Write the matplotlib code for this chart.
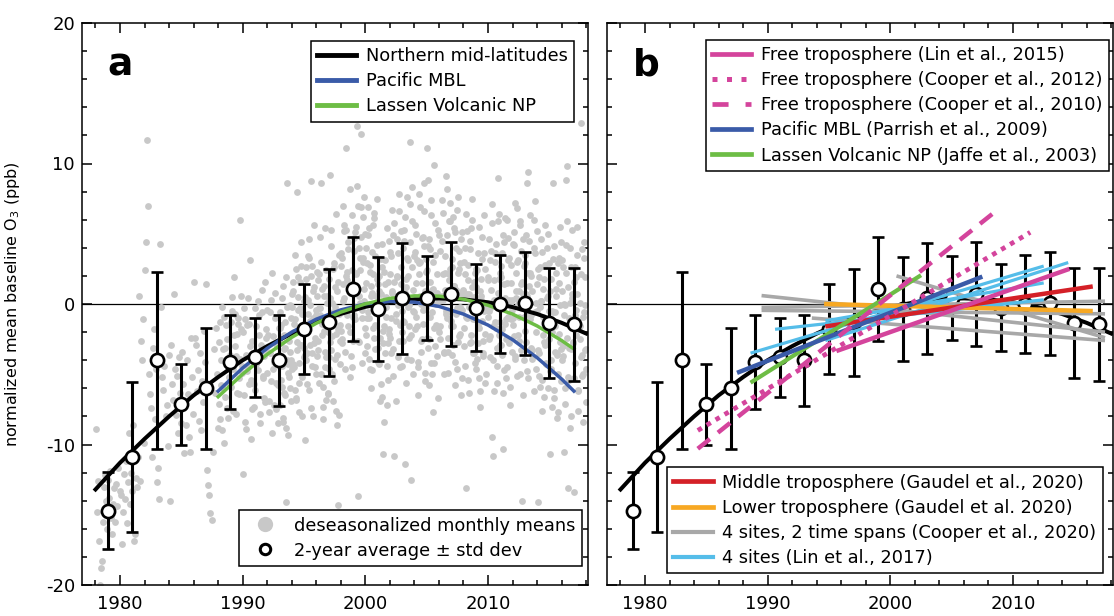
import numpy as np
import matplotlib.pyplot as plt
from matplotlib.lines import Line2D
from matplotlib.ticker import MultipleLocator

plt.rcParams['font.family'] = ['DejaVu Sans']
plt.rcParams['axes.unicode_minus'] = False

output_name = "out.png"

# ---- data ----
# fitted curves
curve_years = [1978, 1980, 1982, 1984, 1986, 1988, 1990, 1992, 1994, 1996, 1998,
               2000, 2002, 2004, 2006, 2008, 2010, 2012, 2014, 2016, 2018]
north_midlat = [-13.2, -11.3, -9.6, -8.0, -6.5, -5.2, -4.0, -3.0, -2.1, -1.3, -0.7,
                -0.2, 0.12, 0.33, 0.4, 0.33, 0.12, -0.22, -0.71, -1.34, -2.1]
fit_years = [1988, 1990, 1992, 1994, 1996, 1998, 2000, 2002, 2004, 2006, 2008,
             2010, 2012, 2014, 2016, 2017]
pacific_mbl = [-6.2, -4.55, -3.15, -2.0, -1.08, -0.42, 0.01, 0.19, 0.13, -0.17, -0.72,
               -1.5, -2.54, -3.82, -5.34, -6.2]
lassen_np = [-6.6, -4.99, -3.58, -2.37, -1.37, -0.58, 0.01, 0.4, 0.58, 0.56, 0.34,
             -0.09, -0.72, -1.56, -2.6, -3.2]

# 2-year averages +- std dev
avg_years = [1979, 1981, 1983, 1985, 1987, 1989, 1991, 1993, 1995, 1997,
             1999, 2001, 2003, 2005, 2007, 2009, 2011, 2013, 2015, 2017]
avg_o3 = [-14.7, -10.9, -4.0, -7.15, -6.0, -4.1, -3.8, -4.0, -1.8, -1.3,
          1.1, -0.35, 0.4, 0.45, 0.7, -0.25, 0.0, 0.05, -1.35, -1.45]
std_o3 = [2.75, 5.35, 6.3, 2.9, 4.3, 3.35, 2.8, 3.25, 3.2, 3.8,
          3.7, 3.7, 3.95, 3.0, 3.7, 3.1, 3.5, 3.65, 3.9, 4.0]

# deseasonalized monthly means (three records, Jan of start year onward)
site_a_start = 1978
site_a = [
    -8.9, -14.8, -12.6, -16.9, -20.0, -18.8, -18.3, -15.5, -13.0, -12.2, -14.0, -16.0,
    -12.5, -13.8, -11.9, -15.2, -16.4, -14.2, -13.1, -15.5, -12.8, -14.4, -11.7, -13.3,
    -13.6, -17.1, -14.8, -12.1, -13.9, -11.2, -15.6, -12.7, -9.2, -14.2, -12.0, -13.3,
    -8.6, -16.9, -16.4, -12.4, -13.0, -10.9, 0.6, -12.6, -2.6, -4.0, -1.1, -9.9,
    2.4, 4.4, 11.7, 7.0, -5.0, -6.4, -7.4, -10.9, -3.1, -1.8, -8.2, -4.6,
    -12.7, -11.7, -13.9, 4.3, -0.2, -5.2, -6.1, -4.4, -8.0, -7.2, -10.1, -3.6,
    -14.0, -2.9, -5.7, -6.8, 0.7, -4.6, -7.9, -5.1, -9.2, -3.8, -6.3, -8.5,
    -3.4, -5.7, -10.6, -7.1, -8.6, -4.0, -6.4, -9.5, -10.5, -2.4, -5.2, -7.8,
    1.6, -2.4, -2.9, -6.2, -4.7, -8.3, -3.5, -9.0, -5.5, -7.0, -1.9, -4.1,
    1.4, -11.8, -12.9, -13.6, -14.9, -15.4, -10.5, -3.2, -6.3, -1.7, -5.0, -8.8,
    -2.7, -8.2, -4.0, -0.2, -6.0, -9.9, -3.1, -1.5, -7.4, -4.6, -5.7, -4.3,
    -1.3, 0.5, -7.6, -2.2, -0.7, -3.7, -6.3, -1.4, -5.3, 6.0, -1.8, -4.9,
    -12.1, -0.3, -8.4, -3.6, -1.5, -4.5, -1.4, 3.1, -5.4, -7.5, -3.8, -5.7,
    -0.3, -4.3, 0.2, -2.2, -7.8, -3.3, -0.6, -5.3, -6.7, 1.6, -1.8, -4.9,
    -2.2, -7.7, -3.5, 0.3, 2.2, -4.6, -7.2, -1.0, -5.6, -2.7, -8.5, -4.4,
    -0.6, -2.8, -5.9, -8.4, -2.2, -1.3, -14.1, 8.6, -4.3, -5.2, -3.4, -4.0,
    -0.2, 1.6, -4.5, -1.1, -6.7, 8.0, 0.5, -4.2, -2.9, 2.7, -0.7, -3.8,
    -9.7, 2.6, -3.5, -0.7, 3.3, -1.2, 8.75, -4.4, 0.9, -2.8, -1.0, -0.8,
    0.6, -3.3, 2.1, -0.3, 8.6, -1.4, -5.9, 1.3, -3.4, -6.8, 0.1, -2.0,
    -3.8, 9.2, -3.3, 0.1, 2.5, -5.5, 1.2, -2.1, -8.6, -14.3, -0.7, -2.6,
    2.7, -2.8, 1.4, 5.2, -0.6, 11.1, 2.3, 3.9, -2.0, 0.8, -4.5, 1.1,
    4.7, -0.2, 2.2, 12.7, -13.7, 0.6, 3.3, 12.1, -1.0, 3.3, 0.2, 5.0,
    1.5, -3.0, 4.9, -1.0, 2.8, 0.6, -4.7, 2.1, 6.1, -1.5, -0.3, 1.8,
    -3.1, 0.9, -2.4, -5.7, 2.6, -10.7, -1.6, 3.1, -0.2, -4.4, 1.6, -2.1,
    2.1, -3.5, 0.8, 4.9, -10.8, -1.2, 1.9, 3.6, -2.6, 0.2, 5.2, -0.5,
    -1.2, 4.5, -11.4, 1.2, 3.3, -0.2, -2.4, 11.5, -12.5, 5.9, 1.0, -0.6,
    3.7, 1.5, -1.6, -4.1, 2.1, 3.0, 0.0, -2.5, 4.8, 8.6, 0.9, -0.3,
    11.1, 8.8, -2.5, 3.9, -4.2, 1.0, -7.7, 9.9, -3.0, 0.7, 2.1, -1.7,
    0.2, -1.6, 4.5, 2.1, -3.5, 1.0, 9.1, -1.0, -2.4, 5.9, 2.5, -0.6,
    2.6, -2.9, 1.3, 5.1, -0.7, -4.6, 2.2, 3.8, -2.1, 0.7, -0.4, 1.0,
    -1.7, 4.0, -13.1, 0.7, 2.8, -0.2, -2.8, 5.4, 1.2, -3.5, 0.5, -1.1,
    2.5, 0.3, -2.8, -5.3, 0.9, 1.8, -1.2, -3.7, 3.6, -2.1, -0.3, -0.9,
    -0.5, -2.3, 3.8, -9.5, -10.8, 0.3, 3.0, -1.7, -3.1, 9.0, 1.8, -1.3,
    1.9, -3.6, -10.3, 4.4, -1.4, -5.3, 1.5, 3.1, -2.8, 0.0, -1.1, 0.3,
    -1.5, 4.2, -3.9, 0.9, 3.0, 0.0, -2.6, 5.6, 1.4, -14.0, 0.7, -0.9,
    2.9, 0.7, 8.6, 9.4, 1.3, 2.2, -0.8, -3.3, 4.0, 7.3, 0.1, -0.5,
    -14.1, -3.5, 2.6, 0.2, -5.4, -0.9, 1.8, -2.9, -4.3, 4.0, 0.6, -2.5,
    -10.7, -4.0, -0.5, 8.6, -6.1, -1.6, 1.1, -3.6, -5.0, 3.3, -0.1, -3.2,
    0.9, -3.0, -10.5, -0.1, 8.8, 9.8, -13.1, -3.1, -8.8, 2.6, 0.4, -2.7,
    -13.4, -0.8, 1.9, 0.7, -6.1, -1.6, 12.9, -3.6, -5.0, 3.3, -0.1, -3.2,
]
site_b_start = 1988
site_b = [
    -7.1, -1.3, -5.8, -9.0, -3.2, -0.9, -6.6, -4.1, -2.5, -8.1, -5.2, -3.6,
    -5.9, -0.5, -4.6, 1.9, -3.0, -7.8, -2.1, -1.0, -6.4, -3.9, 0.6, -4.4,
    -2.0, -6.5, -1.1, -8.9, -4.8, 0.4, -5.7, -3.0, -9.6, -2.6, -4.1, -7.3,
    -6.1, -1.6, -4.7, -0.8, -8.5, -2.9, 1.0, -5.1, -3.7, -7.0, -2.4, -0.4,
    -3.4, -6.9, -0.6, -5.5, -9.2, -2.3, -4.1, 0.8, -7.5, -3.0, -5.8, -1.7,
    -7.2, -1.5, -4.4, 1.3, -6.3, -3.1, -8.8, -0.2, -4.9, -2.6, -6.0, -1.0,
    -4.6, 0.9, -2.0, -6.1, 2.5, -3.3, -0.4, -7.7, 1.6, -2.9, -5.2, 0.2,
    0.5, -4.0, -1.9, 3.4, -6.1, -0.1, 2.0, -3.5, -8.0, 1.2, -2.4, -5.0,
    -3.7, 1.7, -5.6, -0.8, 3.0, -2.2, -7.3, 0.6, -4.5, 2.4, -1.6, -6.4,
    1.8, -2.7, 4.1, -5.0, -0.6, 2.6, -3.9, -7.6, 0.9, -1.8, 3.5, -4.3,
    -1.9, 3.3, 0.2, 5.6, -3.4, 2.0, -0.8, 4.4, -5.2, 1.4, 6.3, -2.6,
    3.8, -1.1, 5.5, 0.9, 7.0, -2.7, 2.4, 4.8, -0.4, 6.2, 1.1, -3.5,
    -2.2, 2.9, -0.6, 5.4, -4.6, 1.3, 3.7, -1.7, 6.5, -3.2, 0.6, 4.2,
    1.4, -4.3, -0.2, 3.2, -6.6, -1.9, 2.3, -3.5, 0.5, -7.2, -2.8, 4.5,
    -2.4, 3.4, 0.9, -5.1, 5.8, -0.7, 2.0, -3.8, 6.6, -1.5, 1.4, -4.4,
    4.0, -1.3, 6.2, 1.8, -3.9, 3.1, -0.1, 7.1, -2.2, 2.6, -5.0, 0.4,
    -1.8, 5.0, 0.3, -4.5, 2.9, 6.9, -2.6, 1.5, -0.4, 4.1, -5.5, 3.2,
    2.4, -3.1, 4.6, -0.9, 6.3, -5.0, 1.1, -1.7, 3.5, 0.0, -3.7, 5.3,
    -2.0, 3.8, 0.6, 6.5, -3.4, 2.2, -0.7, 4.9, -4.9, 1.7, 7.2, -1.2,
    3.2, -1.6, 5.4, -4.1, 1.0, 6.7, -2.7, 2.5, -0.2, 4.6, -5.3, 0.9,
    -3.0, 2.1, -0.9, 5.2, -5.4, 0.7, 3.9, -2.2, 6.0, -1.1, 1.6, -4.2,
    1.2, -3.9, 3.6, -1.7, -6.2, 0.3, 4.8, -2.6, -0.5, 2.5, -5.0, 1.9,
    -2.5, 3.1, -0.2, 5.8, -4.0, 1.7, -1.3, 4.3, -5.6, 0.8, 6.4, -2.9,
    2.7, -1.8, 4.9, -4.7, 0.4, -2.5, 6.0, -0.9, 3.3, -5.9, 1.5, -3.4,
    -1.0, 5.1, -3.7, 2.2, 6.8, -2.2, 0.9, -5.0, 3.8, -0.3, 4.6, -4.0,
    3.5, -2.7, 0.6, -5.3, 4.5, -1.1, 2.0, -3.9, 6.0, -0.6, -4.6, 1.4,
    -3.3, 1.9, -5.9, 0.2, 3.7, -2.2, -6.6, 2.8, -1.4, -4.3, 5.0, -0.5,
    0.9, -4.6, -2.0, 3.2, -6.7, -0.6, 2.2, -3.5, -7.7, 1.5, -2.7, 4.4,
    -4.0, 2.6, -0.8, -6.0, 4.2, -2.4, 1.2, -5.4, 0.1, -3.2, 5.3, -1.6,
    1.6, -4.2, -0.4, 3.5, -6.2, -2.5, 2.1, -5.1, -0.9, 4.4, -3.3, -7.0,
]
site_c_start = 1993
site_c = [
    -1.7, -5.4, 0.4, -8.1, -3.2, -6.5, 1.9, -4.0, -9.3, -2.2, -0.1, -6.9,
    0.7, -4.3, -1.4, 3.5, -6.8, -2.7, 1.9, -5.6, -0.3, 4.4, -8.0, -3.1,
    -3.6, 1.8, -5.7, 0.3, 4.6, -2.9, -7.4, 2.7, -1.0, 5.6, -4.5, -0.4,
    2.3, -2.6, -0.3, 4.8, -5.0, 1.1, -8.2, -1.9, 5.4, -3.8, 0.6, -6.3,
    -4.6, 0.4, 5.3, -2.3, -6.9, 2.9, -0.2, 6.4, -3.6, 1.6, -7.9, -1.5,
    3.6, -2.5, 7.0, 0.4, -4.6, 5.3, 1.7, -1.6, 8.2, -3.7, 2.4, -0.9,
    -0.8, 5.1, 2.1, 8.4, -2.6, 4.0, 0.1, 6.9, -4.2, 3.0, 7.6, -1.7,
    4.0, -1.0, 6.9, -3.9, 2.3, -6.0, 0.8, 5.6, -2.4, 3.4, -0.2, 7.5,
    -4.1, 2.0, -6.9, 0.7, 4.3, -2.8, -8.4, 1.4, -0.9, 5.4, -5.4, -1.8,
    3.7, -1.0, 6.7, -3.2, 1.6, -6.9, 4.6, -0.1, 7.8, -4.5, 2.6, -2.0,
    -2.6, 5.3, 0.8, -5.6, 7.6, 2.0, -1.6, 4.4, -4.0, 8.3, -0.5, 3.4,
    5.6, -0.9, 3.1, -6.5, 7.8, 0.6, -3.4, 4.7, -1.4, 6.6, -4.9, 2.3,
    -2.4, 4.1, -5.8, 1.6, 7.4, -0.6, 3.0, -4.2, 5.8, -1.5, 0.8, -6.7,
    4.9, -2.5, 7.4, 0.3, -5.0, 3.4, -0.5, 8.2, -3.4, 2.1, 5.9, -1.6,
    -3.6, 6.2, 1.3, -5.8, 4.0, -0.3, 7.6, -2.3, 2.9, -6.5, 5.1, 0.5,
    3.0, -4.4, 6.4, -1.0, 1.7, -6.3, 4.5, -2.7, 7.5, 0.2, -3.5, 2.2,
    -4.6, 2.4, -1.4, 5.5, -7.3, 0.6, 3.2, -3.5, 6.3, -5.6, -0.2, 1.7,
    4.6, -3.8, 1.0, 7.1, -1.6, -6.2, 3.6, 0.1, -4.4, 5.9, -2.2, 2.2,
    -2.9, 3.6, -6.3, 1.4, 6.1, -1.1, -4.5, 4.7, 0.3, -7.2, 2.8, -0.4,
    4.3, -2.3, 7.2, 0.4, -5.1, 3.1, -0.9, 5.9, -3.3, 1.6, -6.5, 2.7,
    -1.9, 4.9, -4.8, 2.2, -0.7, 6.3, -3.1, 0.9, -6.2, 3.6, -2.0, 5.2,
    2.5, -5.1, -0.2, 4.6, -7.6, 1.1, -2.7, 5.6, -4.2, 0.4, -6.0, 2.9,
    -4.8, 1.8, -7.3, -0.6, 4.1, -3.4, 0.6, -8.1, 2.9, -2.1, 5.5, -5.5,
    3.1, -3.7, 0.0, -7.1, 2.2, 5.9, -5.2, -1.0, 4.0, -8.0, 0.7, -2.8,
    -5.3, 2.6, -2.2, 5.5, -7.6, 0.1, -3.8, 3.9, -8.4, -0.6, 1.9, -4.6,
]

# panel b: published trends (start/end year, start/end value)
lin2015_x, lin2015_y = [1995.6, 2014.6], [-3.35, 2.5]
cooper2012_x, cooper2012_y = [1984.3, 2011.4], [-9.0, 5.1]
cooper2010_x, cooper2010_y = [1984.3, 2008.3], [-10.3, 6.4]
parrish2009_x, parrish2009_y = [1987.5, 2007.5], [-4.9, 1.95]
jaffe2003_x, jaffe2003_y = [1988.6, 2002.5], [-5.6, 2.05]
gaudel_mid_x, gaudel_mid_y = [1994.7, 2016.5], [-1.6, 1.25]
gaudel_low_x, gaudel_low_y = [1994.6, 2016.5], [0.0, -0.5]
cooper2020_x = [[1989.5, 2017.5], [1989.5, 2017.5], [1989.5, 2017.5], [1993.6, 2017.5], [2000.5, 2017.5]]
cooper2020_y = [[0.6, -2.0], [-0.25, 0.2], [-0.45, -0.7], [-1.0, -2.6], [2.0, -2.4]]
lin2017_x = [[1988.6, 2012.5], [1990.6, 2012.5], [1994.7, 2014.5], [1994.7, 2012.5]]
lin2017_y = [[-3.5, 2.7], [-1.8, 0.3], [-2.6, 2.95], [-1.2, 1.5]]

# colours
c_black = "black"
c_blue = "#3a5ba8"
c_green = "#6dbd45"
c_pink = "#d4449c"
c_red = "#d42027"
c_orange = "#f7a823"
c_grey = "#a8a8a8"
c_lblue = "#55bde9"
c_dots = "#c8c8c8"

fig = plt.figure(figsize=(11.14, 6.16), dpi=100)
ax_a = fig.add_axes([82 / 1114, 31 / 616, 506 / 1114, 562 / 616])
ax_b = fig.add_axes([607 / 1114, 31 / 616, 506 / 1114, 562 / 616])


def style_axis(ax, show_ylabels):
    ax.set_xlim(1976.9, 2018.15)
    ax.set_ylim(-20, 20)
    ax.xaxis.set_major_locator(MultipleLocator(10))
    ax.xaxis.set_minor_locator(MultipleLocator(2))
    ax.yaxis.set_major_locator(MultipleLocator(10))
    ax.yaxis.set_minor_locator(MultipleLocator(2))
    ax.tick_params(which="both", direction="in", top=True, right=True, width=1.1,
                   labelsize=13)
    ax.tick_params(which="major", length=7.5)
    ax.tick_params(which="minor", length=3.8)
    ax.tick_params(axis="x", pad=7)
    ax.tick_params(axis="y", pad=5, labelleft=show_ylabels)
    for s in ax.spines.values():
        s.set_linewidth(1.1)
    ax.axhline(0, color="black", lw=0.9, zorder=1)


def draw_averages(ax):
    ax.plot(curve_years, north_midlat, color=c_black, lw=2.9, zorder=3)
    ax.errorbar(avg_years, avg_o3, yerr=std_o3, fmt="o", ms=9.5, mfc="white",
                mec="black", mew=1.9, ecolor="black", elinewidth=2.2, capsize=4.2,
                capthick=2.2, zorder=5)


leg_kw = dict(fontsize=12.8, handlelength=2.2, handletextpad=0.55, labelspacing=0.4,
              borderpad=0.35, borderaxespad=0, fancybox=False, framealpha=1,
              edgecolor="black")

# ---- panel a ----
style_axis(ax_a, True)
for start, vals in [(site_a_start, site_a), (site_b_start, site_b), (site_c_start, site_c)]:
    x = start + (np.arange(len(vals)) + 0.5) / 12
    ax_a.scatter(x, vals, s=24, color=c_dots, lw=0, zorder=2)
draw_averages(ax_a)
ax_a.plot(fit_years, pacific_mbl, color=c_blue, lw=2.5, zorder=4)
ax_a.plot(fit_years, lassen_np, color=c_green, lw=2.5, zorder=4)

h_top = [Line2D([], [], color=c_black, lw=3.5),
         Line2D([], [], color=c_blue, lw=3.5),
         Line2D([], [], color=c_green, lw=3.5)]
leg1 = ax_a.legend(h_top, ["Northern mid-latitudes", "Pacific MBL", "Lassen Volcanic NP"],
                   loc="upper right", bbox_to_anchor=(0.972, 0.968), **leg_kw)
leg1.get_frame().set_linewidth(1.1)
ax_a.add_artist(leg1)
h_bot = [Line2D([], [], ls="none", marker="o", ms=11, mfc=c_dots, mec="none"),
         Line2D([], [], ls="none", marker="o", ms=7.5, mfc="white", mec="black", mew=2.2)]
leg2 = ax_a.legend(h_bot, ["deseasonalized monthly means", "2-year average \u00b1 std dev"],
                   loc="lower right", bbox_to_anchor=(0.988, 0.034), **leg_kw)
leg2.get_frame().set_linewidth(1.1)

ax_a.set_ylabel("normalized mean baseline O$_3$ (ppb)", fontsize=11.5)
ax_a.yaxis.set_label_coords(-0.119, 0.5)
ax_a.text(0.075, 0.906, "a", transform=ax_a.transAxes, fontsize=27, fontweight="bold",
          ha="center", va="baseline")

# ---- panel b ----
style_axis(ax_b, False)
draw_averages(ax_b)
for xs, ys in zip(cooper2020_x, cooper2020_y):
    ax_b.plot(xs, ys, color=c_grey, lw=2.6, solid_capstyle="butt", zorder=6)
for xs, ys in zip(lin2017_x, lin2017_y):
    ax_b.plot(xs, ys, color=c_lblue, lw=2.3, solid_capstyle="butt", zorder=6)
ax_b.plot(gaudel_low_x, gaudel_low_y, color=c_orange, lw=3.2, solid_capstyle="butt", zorder=7)
ax_b.plot(gaudel_mid_x, gaudel_mid_y, color=c_red, lw=3.2, solid_capstyle="butt", zorder=7)
ax_b.plot(jaffe2003_x, jaffe2003_y, color=c_green, lw=3.0, solid_capstyle="butt", zorder=7)
ax_b.plot(parrish2009_x, parrish2009_y, color=c_blue, lw=3.2, solid_capstyle="butt", zorder=7)
ax_b.plot(lin2015_x, lin2015_y, color=c_pink, lw=3.2, solid_capstyle="butt", zorder=8)
ax_b.plot(cooper2012_x, cooper2012_y, color=c_pink, lw=3.4, ls=(0, (1, 1.2)),
          dash_capstyle="butt", zorder=8)
ax_b.plot(cooper2010_x, cooper2010_y, color=c_pink, lw=3.2, ls=(0, (3.5, 2.3)),
          dash_capstyle="butt", zorder=8)

hb_top = [Line2D([], [], color=c_pink, lw=3.4),
          Line2D([], [], color=c_pink, lw=3.6, ls=(0, (1, 1.9)), dash_capstyle="butt"),
          Line2D([], [], color=c_pink, lw=3.4, ls=(0, (3.4, 3.6)), dash_capstyle="butt"),
          Line2D([], [], color=c_blue, lw=3.4),
          Line2D([], [], color=c_green, lw=3.4)]
lb_top = ["Free troposphere (Lin et al., 2015)",
          "Free troposphere (Cooper et al., 2012)",
          "Free troposphere (Cooper et al., 2010)",
          "Pacific MBL (Parrish et al., 2009)",
          "Lassen Volcanic NP (Jaffe et al., 2003)"]
leg3 = ax_b.legend(hb_top, lb_top, loc="upper right", bbox_to_anchor=(0.992, 0.970), **leg_kw)
leg3.get_frame().set_linewidth(1.1)
leg3.set_zorder(10)
ax_b.add_artist(leg3)
hb_bot = [Line2D([], [], color=c_red, lw=3.4),
          Line2D([], [], color=c_orange, lw=3.4),
          Line2D([], [], color=c_grey, lw=3.0),
          Line2D([], [], color=c_lblue, lw=3.0)]
lb_bot = ["Middle troposphere (Gaudel et al., 2020)",
          "Lower troposphere (Gaudel et al. 2020)",
          "4 sites, 2 time spans (Cooper et al., 2020)",
          "4 sites (Lin et al., 2017)"]
leg4 = ax_b.legend(hb_bot, lb_bot, loc="lower left", bbox_to_anchor=(0.119, 0.021), **leg_kw)
leg4.get_frame().set_linewidth(1.1)
leg4.set_zorder(10)
ax_b.text(0.077, 0.906, "b", transform=ax_b.transAxes, fontsize=27, fontweight="bold",
          ha="center", va="baseline")

fig.savefig(output_name, dpi=100)
print(f"Plot saved to {output_name}")
